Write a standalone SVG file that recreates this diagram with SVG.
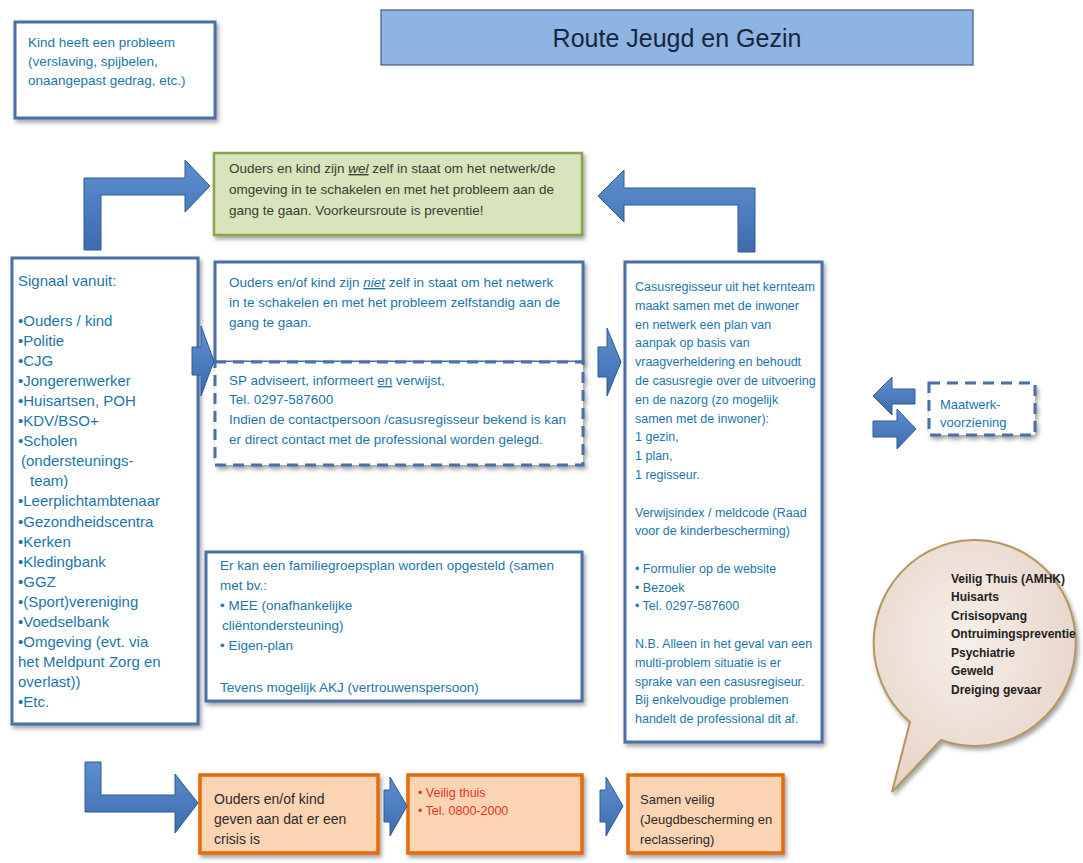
<svg xmlns="http://www.w3.org/2000/svg" width="1083" height="863" viewBox="0 0 1083 863">
<style>
text{font-family:"Liberation Sans",Arial,sans-serif;}
.bt{fill:#1c76ab;}
.blue{fill:#ffffff;stroke:#4b6fa8;stroke-width:3;}
.dash{fill:#ffffff;stroke:#4b6fa8;stroke-width:3;stroke-dasharray:11 7;}
.orange{fill:#fbd4b4;stroke:#e36c0a;stroke-width:3.5;}
.arrow{fill:url(#ag);stroke:#2f5a94;stroke-width:1;}
.u{text-decoration:underline;}
</style>
<defs>
<filter id="sh" x="-10%" y="-10%" width="125%" height="130%">
<feDropShadow dx="2" dy="3" stdDeviation="2" flood-color="#555" flood-opacity="0.55"/>
</filter>
<linearGradient id="ag" x1="0" y1="0" x2="0" y2="1">
<stop offset="0" stop-color="#5d8fd0"/>
<stop offset="1" stop-color="#3e6cae"/>
</linearGradient>
<radialGradient id="bg" cx="0.45" cy="0.4" r="0.65">
<stop offset="0" stop-color="#f7efe9"/>
<stop offset="1" stop-color="#e6d3c8"/>
</radialGradient>
</defs>
<rect width="1083" height="863" fill="#ffffff"/>

<g id="title">
<rect x="381" y="10" width="592" height="55" fill="#8db4e2" stroke="#4a5a70" stroke-width="1.2"/>
<text x="677" y="47" font-size="25" text-anchor="middle" fill="#1a2440">Route Jeugd en Gezin</text>
</g>

<g id="kind">
<rect class="blue" x="15" y="22" width="200" height="96" filter="url(#sh)"/>
<text class="bt" font-size="13.5"><tspan x="28" y="47">Kind heeft een probleem</tspan><tspan x="28" y="66">(verslaving, spijbelen,</tspan><tspan x="28" y="85">onaangepast gedrag, etc.)</tspan></text>
</g>

<g id="wel">
<rect x="214" y="153" width="368" height="82" fill="#d7e4bc" stroke="#89a54c" stroke-width="2.5" filter="url(#sh)"/>
<text font-size="13.5" fill="#3b3b30"><tspan x="229" y="173">Ouders en kind zijn <tspan class="u" font-style="italic">wel</tspan> zelf in staat om het netwerk/de</tspan><tspan x="229" y="194">omgeving in te schakelen en met het probleem aan de</tspan><tspan x="229" y="215">gang te gaan. Voorkeursroute is preventie!</tspan></text>
</g>

<g id="signaal">
<rect class="blue" x="12" y="258" width="186" height="466" filter="url(#sh)"/>
<text class="bt" font-size="15">
<tspan x="18" y="286">Signaal vanuit:</tspan>
<tspan x="18" y="326">•Ouders / kind</tspan>
<tspan x="18" y="346">•Politie</tspan>
<tspan x="18" y="366">•CJG</tspan>
<tspan x="18" y="386">•Jongerenwerker</tspan>
<tspan x="18" y="406">•Huisartsen, POH</tspan>
<tspan x="18" y="426">•KDV/BSO+</tspan>
<tspan x="18" y="446">•Scholen</tspan>
<tspan x="21" y="466">(ondersteunings-</tspan>
<tspan x="30" y="486">team)</tspan>
<tspan x="18" y="506">•Leerplichtambtenaar</tspan>
<tspan x="18" y="527">•Gezondheidscentra</tspan>
<tspan x="18" y="547">•Kerken</tspan>
<tspan x="18" y="567">•Kledingbank</tspan>
<tspan x="18" y="587">•GGZ</tspan>
<tspan x="18" y="607">•(Sport)vereniging</tspan>
<tspan x="18" y="627">•Voedselbank</tspan>
<tspan x="18" y="647">•Omgeving (evt. via</tspan>
<tspan x="18" y="667">het Meldpunt Zorg en</tspan>
<tspan x="18" y="687">overlast))</tspan>
<tspan x="18" y="707">•Etc.</tspan>
</text>
</g>

<g id="niet">
<rect class="blue" x="215" y="262" width="368" height="100" filter="url(#sh)"/>
<text class="bt" font-size="13.5"><tspan x="229" y="287">Ouders en/of kind zijn <tspan class="u" font-style="italic">niet</tspan> zelf in staat om het netwerk</tspan><tspan x="229" y="307">in te schakelen en met het probleem zelfstandig aan de</tspan><tspan x="229" y="327">gang te gaan.</tspan></text>
</g>

<g id="sp">
<rect class="dash" x="215" y="362" width="368" height="103" filter="url(#sh)"/>
<text class="bt" font-size="13.5"><tspan x="229" y="385">SP adviseert, informeert <tspan class="u">en</tspan> verwijst,</tspan><tspan x="229" y="404">Tel. 0297-587600</tspan><tspan x="229" y="424">Indien de contactpersoon /casusregisseur bekend is kan</tspan><tspan x="229" y="444">er direct contact met de professional worden gelegd.</tspan></text>
</g>

<g id="familie">
<rect class="blue" x="206" y="552" width="376" height="149" filter="url(#sh)"/>
<text class="bt" font-size="13.5"><tspan x="220" y="570">Er kan een familiegroepsplan worden opgesteld (samen</tspan><tspan x="220" y="590">met bv.:</tspan><tspan x="220" y="610">• MEE (onafhankelijke</tspan><tspan x="222" y="630">cliëntondersteuning)</tspan><tspan x="220" y="650">• Eigen-plan</tspan><tspan x="220" y="692">Tevens mogelijk AKJ (vertrouwenspersoon)</tspan></text>
</g>

<g id="casus">
<rect class="blue" x="625" y="262" width="197" height="480" filter="url(#sh)"/>
<text class="bt" font-size="12.5">
<tspan x="635" y="291">Casusregisseur uit het kernteam</tspan>
<tspan x="635" y="310">maakt samen met de inwoner</tspan>
<tspan x="635" y="329">en netwerk een plan van</tspan>
<tspan x="635" y="347">aanpak op basis van</tspan>
<tspan x="635" y="366">vraagverheldering en behoudt</tspan>
<tspan x="635" y="385">de casusregie over de uitvoering</tspan>
<tspan x="635" y="404">en de nazorg (zo mogelijk</tspan>
<tspan x="635" y="423">samen met de inwoner):</tspan>
<tspan x="635" y="441">1 gezin,</tspan>
<tspan x="635" y="460">1 plan,</tspan>
<tspan x="635" y="479">1 regisseur.</tspan>
<tspan x="635" y="517">Verwijsindex / meldcode (Raad</tspan>
<tspan x="635" y="535">voor de kinderbescherming)</tspan>
<tspan x="635" y="573">• Formulier op de website</tspan>
<tspan x="635" y="592">• Bezoek</tspan>
<tspan x="635" y="610">• Tel. 0297-587600</tspan>
<tspan x="635" y="648">N.B. Alleen in het geval van een</tspan>
<tspan x="635" y="667">multi-problem situatie is er</tspan>
<tspan x="635" y="686">sprake van een casusregiseur.</tspan>
<tspan x="635" y="704">Bij enkelvoudige problemen</tspan>
<tspan x="635" y="723">handelt de professional dit af.</tspan>
</text>
</g>

<g id="maatwerk">
<rect class="dash" x="929" y="383" width="106" height="52" filter="url(#sh)"/>
<text class="bt" font-size="13"><tspan x="940" y="409">Maatwerk-</tspan><tspan x="940" y="427">voorziening</tspan></text>
</g>

<g id="bubble">
<path d="M 910 722 L 892 792 L 941 740 A 101 103 0 1 0 910 722 Z" fill="url(#bg)" stroke="#b5965e" stroke-width="2" filter="url(#sh)"/>
<text font-size="12" font-weight="bold" fill="#222222">
<tspan x="951" y="583">Veilig Thuis (AMHK)</tspan>
<tspan x="951" y="601">Huisarts</tspan>
<tspan x="951" y="620">Crisisopvang</tspan>
<tspan x="951" y="638">Ontruimingspreventie</tspan>
<tspan x="951" y="657">Psychiatrie</tspan>
<tspan x="951" y="675">Geweld</tspan>
<tspan x="951" y="694">Dreiging gevaar</tspan>
</text>
</g>

<g id="crisis">
<rect class="orange" x="200" y="775" width="178" height="78" filter="url(#sh)"/>
<text font-size="14" fill="#2a2a2a"><tspan x="214" y="804">Ouders en/of kind</tspan><tspan x="214" y="824">geven aan dat er een</tspan><tspan x="214" y="844">crisis is</tspan></text>
</g>

<g id="veiligthuis">
<rect class="orange" x="408" y="775" width="174" height="78" filter="url(#sh)"/>
<text font-size="12.5" fill="#e8302a"><tspan x="418" y="797">• Veilig thuis</tspan><tspan x="418" y="815">• Tel. 0800-2000</tspan></text>
</g>

<g id="samenveilig">
<rect class="orange" x="628" y="775" width="155" height="78" filter="url(#sh)"/>
<text font-size="13" fill="#2a2a2a"><tspan x="640" y="804">Samen veilig</tspan><tspan x="640" y="824">(Jeugdbescherming en</tspan><tspan x="640" y="844">reclassering)</tspan></text>
</g>

<g id="connectors">
<polygon class="arrow" points="84,250 84,178 185,178 185,160 210,186 185,212 185,195 101,195 101,250"/>
<polygon class="arrow" points="738,252 738,205 624,205 624,222 598,196 624,170 624,188 755,188 755,252"/>
<polygon class="arrow" points="192,347 201,347 201,326 214,361 201,396 201,375 192,375"/>
<polygon class="arrow" points="598,347 607,347 607,328 621,362 607,396 607,377 598,377"/>
<polygon class="arrow" points="915,389 892,389 892,377 873,396 892,415 892,404 915,404"/>
<polygon class="arrow" points="873,421 897,421 897,409 916,429 897,449 897,437 873,437"/>
<polygon class="arrow" points="85,762 85,812 175,812 175,833 198,803 175,774 175,795 101,795 101,762"/>
<polygon class="arrow" points="384,790 390,790 390,777 407,806 390,836 390,822 384,822"/>
<polygon class="arrow" points="600,790 606,790 606,777 623,806 606,836 606,822 600,822"/>
</g>
</svg>
